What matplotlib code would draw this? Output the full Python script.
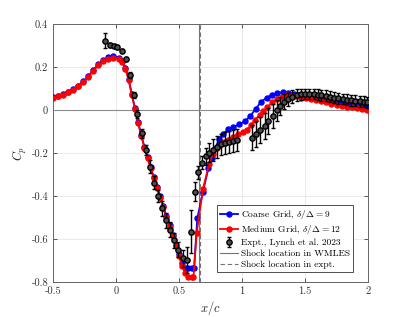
import matplotlib
matplotlib.use("Agg")
import matplotlib.pyplot as plt

plt.rcParams['font.family'] = 'serif'
plt.rcParams['font.serif'] = ['cmr10']
plt.rcParams['mathtext.fontset'] = 'cm'
plt.rcParams['axes.unicode_minus'] = False

# coarse grid WMLES
coarse_x = [-0.50, -0.46, -0.42, -0.38, -0.34, -0.30, -0.26, -0.22, -0.18, -0.14, -0.10, -0.06,
            -0.02, 0.02, 0.05, 0.075, 0.10, 0.125, 0.15, 0.175, 0.20, 0.225, 0.25, 0.275, 0.30,
            0.325, 0.35, 0.375, 0.40, 0.425, 0.45, 0.475, 0.50, 0.525, 0.55, 0.575, 0.60, 0.62,
            0.645, 0.69, 0.733, 0.76, 0.79, 0.82, 0.852, 0.89, 0.93, 0.98, 1.024, 1.063, 1.11,
            1.15, 1.196, 1.236, 1.28, 1.323, 1.368, 1.41, 1.45, 1.49, 1.53, 1.57, 1.61, 1.65,
            1.69, 1.73, 1.77, 1.81, 1.85, 1.89, 1.93, 1.97, 2.0]
coarse_cp = [0.060, 0.067, 0.075, 0.086, 0.098, 0.113, 0.133, 0.157, 0.186, 0.213, 0.232, 0.245,
             0.249, 0.243, 0.228, 0.196, 0.146, 0.076, 0.010, -0.055, -0.115, -0.170, -0.220,
             -0.267, -0.313, -0.357, -0.402, -0.447, -0.492, -0.537, -0.582, -0.627, -0.672,
             -0.710, -0.735, -0.737, -0.737, -0.735, -0.504, -0.380, -0.272, -0.222, -0.175,
             -0.135, -0.110, -0.090, -0.080, -0.066, -0.052, -0.030, 0.006, 0.037, 0.058, 0.070,
             0.079, 0.082, 0.079, 0.075, 0.072, 0.069, 0.066, 0.061, 0.056, 0.050, 0.044, 0.038,
             0.033, 0.029, 0.025, 0.022, 0.018, 0.015, 0.012]

# medium grid WMLES
medium_x = [-0.50, -0.46, -0.42, -0.38, -0.34, -0.30, -0.26, -0.22, -0.18, -0.14, -0.10, -0.06,
            -0.02, 0.02, 0.05, 0.075, 0.10, 0.125, 0.15, 0.175, 0.20, 0.225, 0.25, 0.275, 0.30,
            0.325, 0.35, 0.375, 0.40, 0.425, 0.45, 0.475, 0.50, 0.525, 0.55, 0.575, 0.60, 0.615,
            0.64, 0.69, 0.74, 0.77, 0.80, 0.83, 0.86, 0.89, 0.93, 0.97, 1.01, 1.04, 1.07, 1.10,
            1.14, 1.17, 1.20, 1.24, 1.275, 1.315, 1.355, 1.39, 1.43, 1.47, 1.51, 1.55, 1.59,
            1.63, 1.67, 1.71, 1.75, 1.79, 1.83, 1.87, 1.91, 1.95, 1.99]
medium_cp = [0.057, 0.064, 0.072, 0.083, 0.095, 0.110, 0.130, 0.153, 0.182, 0.208, 0.226, 0.238,
             0.242, 0.236, 0.222, 0.190, 0.140, 0.070, 0.005, -0.060, -0.120, -0.175, -0.225,
             -0.272, -0.318, -0.362, -0.407, -0.452, -0.497, -0.543, -0.588, -0.633, -0.680,
             -0.725, -0.760, -0.775, -0.776, -0.775, -0.574, -0.367, -0.250, -0.205, -0.175,
             -0.158, -0.148, -0.138, -0.124, -0.112, -0.103, -0.092, -0.072, -0.047, -0.023,
             -0.005, 0.012, 0.035, 0.050, 0.061, 0.068, 0.067, 0.063, 0.058, 0.055, 0.051,
             0.046, 0.041, 0.035, 0.029, 0.023, 0.019, 0.016, 0.013, 0.010, 0.006, 0.002]

# experiment, Lynch et al. 2023
expt_x = [-0.087, -0.048, -0.016, 0.010, 0.045, 0.079, 0.111, 0.143, 0.169, 0.209, 0.238, 0.270,
          0.302, 0.331, 0.363, 0.394, 0.429, 0.460, 0.494, 0.529, 0.561, 0.593, 0.627, 0.653,
          0.685, 0.712, 0.740, 0.770, 0.800, 0.830, 0.865, 0.900, 0.930, 0.960, 1.077, 1.110,
          1.146, 1.180, 1.210, 1.245, 1.275, 1.300, 1.335, 1.368, 1.400, 1.435, 1.468, 1.500,
          1.535, 1.570, 1.600, 1.630, 1.665, 1.700, 1.730, 1.765, 1.800, 1.830, 1.865, 1.900,
          1.935, 1.965, 1.995]
expt_cp = [0.322, 0.302, 0.299, 0.294, 0.276, 0.236, 0.163, 0.070, -0.019, -0.108, -0.186, -0.264,
           -0.338, -0.400, -0.457, -0.512, -0.558, -0.605, -0.651, -0.690, -0.698, -0.566, -0.380,
           -0.290, -0.245, -0.215, -0.198, -0.185, -0.172, -0.160, -0.153, -0.148, -0.145, -0.140,
           -0.128, -0.112, -0.094, -0.074, -0.052, -0.028, -0.002, 0.019, 0.038, 0.050, 0.062,
           0.070, 0.073, 0.074, 0.074, 0.074, 0.072, 0.069, 0.066, 0.062, 0.058, 0.055, 0.051,
           0.048, 0.045, 0.043, 0.040, 0.038, 0.036]
expt_err = [0.035, 0.010, 0.008, 0.008, 0.008, 0.010, 0.015, 0.015, 0.020, 0.020, 0.025, 0.030,
            0.030, 0.030, 0.035, 0.035, 0.035, 0.035, 0.035, 0.040, 0.060, 0.100, 0.045, 0.030,
            0.030, 0.040, 0.045, 0.050, 0.050, 0.050, 0.050, 0.050, 0.050, 0.050, 0.060, 0.060,
            0.060, 0.060, 0.060, 0.055, 0.050, 0.040, 0.035, 0.030, 0.030, 0.028, 0.025, 0.025,
            0.025, 0.025, 0.025, 0.025, 0.025, 0.025, 0.025, 0.025, 0.025, 0.025, 0.025, 0.025,
            0.025, 0.025, 0.025]

shock_wmles = 0.659
shock_expt = 0.669

fig = plt.figure(figsize=(4.07, 3.17), dpi=100)
ax = fig.add_axes([53/407, 1 - 282/317, 315/407, 258/317])

ax.axhline(0, color='0.55', lw=0.8, zorder=1)
ax.plot(coarse_x, coarse_cp, '-o', color='blue', lw=1.3, ms=3.6,
        label=r'Coarse Grid, $\delta/\Delta = 9$', zorder=3)
ax.plot(medium_x, medium_cp, '-o', color='red', lw=1.3, ms=3.6,
        label=r'Medium Grid, $\delta/\Delta = 12$', zorder=4)
ax.errorbar(expt_x, expt_cp, yerr=expt_err, fmt='o', color='black', mfc='0.3', mec='black',
            ms=3.8, elinewidth=1.0, capsize=1.6, capthick=1.0, lw=0,
            label=r'Expt., Lynch et al. 2023', zorder=5)
ax.axvline(shock_wmles, color='0.45', lw=0.8, ls='-', label='Shock location in WMLES', zorder=2)
ax.axvline(shock_expt, color='0.45', lw=0.8, ls=(0, (4, 2.5)), label='Shock location in expt.',
           zorder=2)

ax.set_xlim(-0.5, 2)
ax.set_ylim(-0.8, 0.4)
xt = [-0.5, 0, 0.5, 1, 1.5, 2]
yt = [-0.8, -0.6, -0.4, -0.2, 0, 0.2, 0.4]
ax.set_xticks(xt)
ax.set_xticklabels(['-0.5', '0', '0.5', '1', '1.5', '2'])
ax.set_yticks(yt)
ax.set_yticklabels(['-0.8', '-0.6', '-0.4', '-0.2', '0', '0.2', '0.4'])
ax.tick_params(direction='in', top=True, right=True, labelsize=7.5, length=3,
               width=0.6, colors='0.25', labelcolor='0.2')
ax.grid(True, color='0.9', lw=0.6)
ax.set_axisbelow(True)
for s in ax.spines.values():
    s.set_color('0.4')
    s.set_linewidth(0.7)

ax.set_xlabel(r'$x/c$', fontsize=9, color='0.15', labelpad=2)
ax.set_ylabel(r'$C_p$', fontsize=9, color='0.15', labelpad=2)

handles, labels = ax.get_legend_handles_labels()
order = ['Coarse Grid', 'Medium Grid', 'Expt.', 'Shock location in WMLES', 'Shock location in expt.']
idx = [next(i for i, l in enumerate(labels) if l.startswith(o)) for o in order]
leg = ax.legend([handles[i] for i in idx], [labels[i] for i in idx],
                loc='lower right', bbox_to_anchor=(0.952, 0.039), fontsize=6.8,
                frameon=True, fancybox=False, edgecolor='0.2', framealpha=1,
                handlelength=1.9, handletextpad=0.3, borderpad=0.3, labelspacing=0.25,
                borderaxespad=0)
leg.get_frame().set_linewidth(0.6)

fig.savefig('out.png', dpi=100)
